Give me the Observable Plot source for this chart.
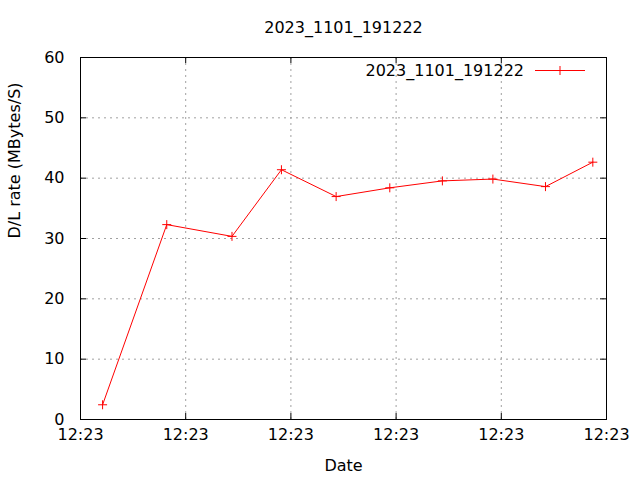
<!DOCTYPE html>
<html>
<head>
<meta charset="utf-8">
<script src="https://cdn.jsdelivr.net/npm/d3@7"></script>
<script src="https://cdn.jsdelivr.net/npm/@observablehq/plot@0.6"></script>
<style>
  html, body { margin: 0; padding: 0; background: #fff; }
  svg { font-family: "DejaVu Sans", sans-serif; }
</style>
</head>
<body>
<div id="chart"></div>
<script>
const title = "2023_1101_191222";
const seriesName = "2023_1101_191222";
const xLabel = "Date";
const yLabel = "D/L rate (MBytes/S)";
const day = "2023-11-01";
const times = ["12:23:02.1", "12:23:08.2", "12:23:14.4", "12:23:19.1", "12:23:24.3",
               "12:23:29.4", "12:23:34.4", "12:23:39.2", "12:23:44.2", "12:23:48.7"];
const rates = [2.44, 32.3, 30.35, 41.4, 36.95, 38.4, 39.55, 39.85, 38.6, 42.65];
const xTickTimes = ["12:23:00", "12:23:10", "12:23:20", "12:23:30", "12:23:40", "12:23:50"];
const yTicks = [0, 10, 20, 30, 40, 50, 60];

const toDate = t => new Date(`${day}T${t}Z`);
const data = times.map((t, i) => ({time: toDate(t), rate: rates[i]}));
const xTicks = xTickTimes.map(toDate);
const fmt = d3.utcFormat("%H:%M");

const W = 640, H = 480, mL = 80, mR = 34, mT = 57, mB = 61;
const pw = W - mL - mR, ph = H - mT - mB;
const tick = 6;

const plusSymbol = {
  draw(ctx, size) {
    const r = Math.sqrt(size / Math.PI);
    ctx.moveTo(-r, 0); ctx.lineTo(r, 0);
    ctx.moveTo(0, -r); ctx.lineTo(0, r);
  }
};

function legendMark(index, scales, values, dims) {
  const g = d3.create("svg:g");
  const right = dims.width - dims.marginRight;
  const y = dims.marginTop + 13.5;
  const x1 = right - 71, x2 = right - 21, xm = (x1 + x2) / 2;
  g.append("line").attr("x1", x1).attr("x2", x2).attr("y1", y).attr("y2", y)
    .attr("stroke", "red").attr("stroke-width", 1);
  g.append("path").attr("d", `M${xm - 4.5},${y}H${xm + 4.5}M${xm},${y - 4.5}V${y + 4.5}`)
    .attr("stroke", "red").attr("stroke-width", 1).attr("fill", "none");
  g.append("text").attr("x", right - 82).attr("y", y).attr("dy", "0.32em")
    .attr("text-anchor", "end").attr("font-size", 16).attr("fill", "#000")
    .text(seriesName);
  return g.node();
}

const interiorX = xTicks.slice(1, -1);
const interiorY = yTicks.slice(1, -1);

const chart = Plot.plot({
  width: W, height: H,
  marginLeft: mL, marginRight: mR, marginTop: mT, marginBottom: mB,
  style: {fontSize: "16px", fontFamily: "DejaVu Sans, sans-serif", background: "#fff"},
  x: {type: "utc", domain: [xTicks[0], xTicks[xTicks.length - 1]]},
  y: {domain: [0, 60]},
  marks: [
    Plot.ruleX(interiorX, {x: d => d, stroke: "#a0a0a0", strokeWidth: 1, strokeDasharray: "2,4"}),
    Plot.ruleY(interiorY, {y: d => d, stroke: "#a0a0a0", strokeWidth: 1, strokeDasharray: "2,4"}),
    Plot.ruleY(yTicks, {y: d => d, insetRight: pw - tick, stroke: "#000"}),
    Plot.ruleY(yTicks, {y: d => d, insetLeft: pw - tick, stroke: "#000"}),
    Plot.ruleX(xTicks, {x: d => d, insetTop: ph - tick, stroke: "#000"}),
    Plot.ruleX(xTicks, {x: d => d, insetBottom: ph - tick, stroke: "#000"}),
    Plot.frame({stroke: "#000", strokeWidth: 1}),
    Plot.axisY({ticks: yTicks, tickSize: 0, tickPadding: 16, fontSize: 16, label: null, fill: "#000"}),
    Plot.axisX({ticks: xTicks, tickSize: 0, tickPadding: 9, tickFormat: fmt, fontSize: 16, label: null, fill: "#000"}),
    Plot.line(data, {x: "time", y: "rate", stroke: "red", strokeWidth: 1}),
    Plot.dot(data, {x: "time", y: "rate", symbol: plusSymbol, r: 4.5, stroke: "red", strokeWidth: 1, fill: "none"}),
    Plot.text([title], {text: d => d, frameAnchor: "top", lineAnchor: "middle", dy: -30, fontSize: 16, fill: "#000"}),
    Plot.text([xLabel], {text: d => d, frameAnchor: "bottom", lineAnchor: "middle", dy: 46, fontSize: 16, fill: "#000"}),
    Plot.text([yLabel], {text: d => d, frameAnchor: "left", lineAnchor: "middle", dx: -66, rotate: -90, fontSize: 16, fill: "#000"}),
    legendMark
  ]
});
document.getElementById("chart").appendChild(chart);
</script>
</body>
</html>
